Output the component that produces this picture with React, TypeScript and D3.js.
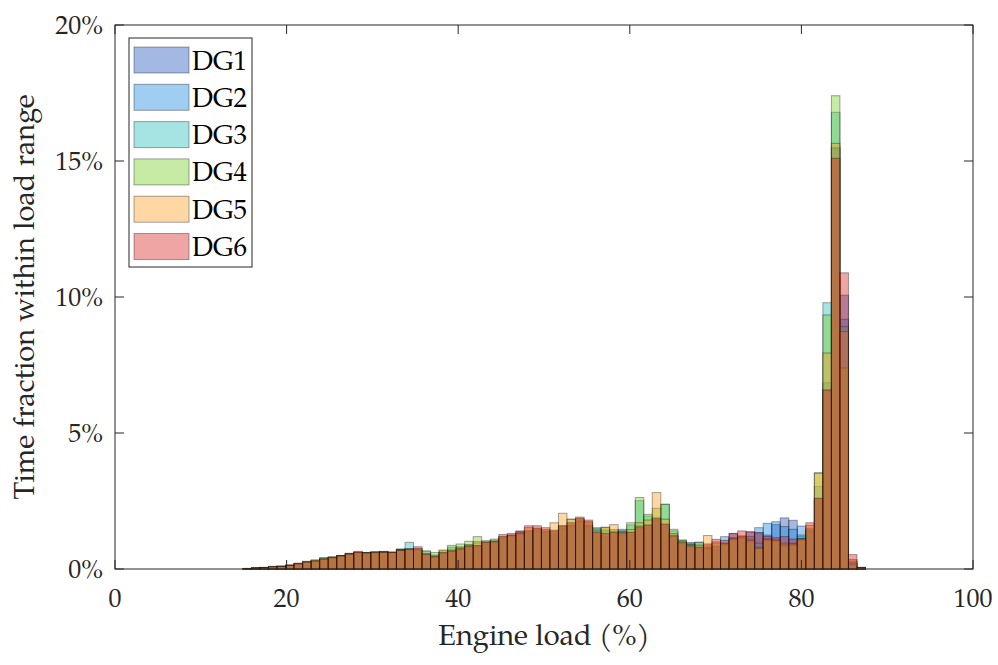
import React from 'react';
import * as d3 from 'd3';

// Histogram bins: bin k covers [k*BIN_WIDTH, (k+1)*BIN_WIDTH], data starts at FIRST_BIN
const FIRST_BIN = 15;
const BIN_WIDTH = 0.994;

const seriesNames = ['DG1', 'DG2', 'DG3', 'DG4', 'DG5', 'DG6'];
const seriesColors = ['#194db9', '#1182de', '#1ebbb9', '#70cd1e', '#fc9b1b', '#d91e1e'];

// Time fraction (%) per bin, bins 15..87
const dg1 = [
  0.01, 0.04, 0.05, 0.08, 0.10, 0.13, 0.19, 0.25, 0.29, 0.36,
  0.42, 0.48, 0.55, 0.60, 0.58, 0.60, 0.61, 0.60, 0.70, 0.70,
  0.70, 0.52, 0.44, 0.58, 0.65, 0.73, 0.82, 0.80, 0.92, 0.94,
  1.09, 1.19, 1.38, 1.31, 1.37, 1.31, 1.25, 1.46, 1.56, 1.74,
  1.56, 1.31, 1.21, 1.31, 1.25, 1.25, 1.50, 1.52, 1.74, 1.56,
  1.19, 0.94, 0.82, 0.76, 0.78, 0.70, 0.95, 1.31, 1.20, 1.37,
  1.34, 1.25, 1.64, 1.88, 1.79, 1.20, 1.38, 2.54, 6.60, 15.50,
  10.07, 0.30, 0.05,
];
const dg2 = [
  0.02, 0.03, 0.06, 0.07, 0.09, 0.13, 0.19, 0.25, 0.30, 0.36,
  0.41, 0.48, 0.56, 0.60, 0.59, 0.61, 0.64, 0.61, 0.72, 0.73,
  0.68, 0.54, 0.46, 0.59, 0.68, 0.75, 0.85, 0.85, 0.96, 0.98,
  1.12, 1.22, 1.30, 1.36, 1.42, 1.35, 1.30, 1.50, 1.60, 1.76,
  1.60, 1.45, 1.40, 1.38, 1.46, 1.35, 1.60, 1.60, 1.80, 1.62,
  1.25, 1.00, 0.97, 0.85, 0.80, 0.85, 1.19, 1.15, 1.15, 1.20,
  1.52, 1.68, 1.74, 1.56, 1.46, 1.58, 1.41, 2.60, 6.85, 15.47,
  9.18, 0.25, 0.04,
];
const dg3 = [
  0.01, 0.05, 0.05, 0.08, 0.10, 0.14, 0.20, 0.26, 0.31, 0.40,
  0.42, 0.49, 0.56, 0.61, 0.60, 0.62, 0.65, 0.61, 0.74, 0.98,
  0.72, 0.64, 0.52, 0.62, 0.80, 0.82, 0.90, 0.95, 0.98, 1.06,
  1.15, 1.22, 1.28, 1.38, 1.45, 1.38, 1.35, 1.55, 1.62, 1.80,
  1.62, 1.52, 1.44, 1.40, 1.38, 1.62, 2.51, 1.95, 1.90, 2.38,
  1.40, 1.05, 0.95, 0.99, 0.75, 0.80, 0.88, 1.07, 1.13, 1.00,
  0.95, 1.10, 1.05, 0.90, 0.95, 1.25, 1.45, 3.03, 9.79, 16.79,
  8.91, 0.20, 0.06,
];
const dg4 = [
  0.02, 0.04, 0.06, 0.10, 0.11, 0.15, 0.21, 0.28, 0.33, 0.42,
  0.45, 0.50, 0.58, 0.62, 0.61, 0.64, 0.63, 0.62, 0.71, 0.74,
  0.74, 0.67, 0.61, 0.67, 0.87, 0.92, 1.02, 1.19, 1.03, 1.10,
  1.20, 1.25, 1.32, 1.42, 1.48, 1.40, 1.43, 1.60, 1.83, 1.84,
  1.70, 1.48, 1.54, 1.45, 1.40, 1.70, 2.63, 2.01, 2.23, 2.38,
  1.46, 1.07, 0.90, 0.97, 0.85, 0.95, 0.92, 1.10, 1.18, 1.10,
  0.80, 1.07, 1.03, 0.85, 0.88, 1.07, 1.50, 3.54, 9.34, 17.40,
  7.39, 0.15, 0.03,
];
const dg5 = [
  0.01, 0.03, 0.05, 0.09, 0.10, 0.14, 0.21, 0.28, 0.33, 0.38,
  0.44, 0.49, 0.56, 0.61, 0.60, 0.62, 0.62, 0.61, 0.70, 0.72,
  0.75, 0.56, 0.48, 0.70, 0.70, 0.78, 0.88, 1.00, 1.03, 1.00,
  1.18, 1.24, 1.33, 1.52, 1.50, 1.45, 1.70, 2.05, 1.83, 1.86,
  1.74, 1.40, 1.52, 1.63, 1.35, 1.45, 1.70, 1.80, 2.81, 1.83,
  1.30, 1.02, 0.88, 0.88, 1.23, 1.00, 0.95, 1.12, 1.22, 1.05,
  0.76, 1.10, 1.08, 0.95, 0.92, 1.10, 1.60, 3.52, 7.94, 15.65,
  8.73, 0.35, 0.05,
];
const dg6 = [
  0.02, 0.04, 0.05, 0.08, 0.09, 0.13, 0.19, 0.25, 0.29, 0.36,
  0.42, 0.48, 0.55, 0.65, 0.59, 0.60, 0.61, 0.62, 0.68, 0.74,
  0.82, 0.55, 0.45, 0.60, 0.66, 0.74, 0.84, 0.86, 0.98, 1.02,
  1.27, 1.31, 1.40, 1.59, 1.59, 1.52, 1.40, 1.58, 1.70, 1.91,
  1.80, 1.35, 1.30, 1.35, 1.32, 1.35, 1.55, 1.62, 1.85, 1.65,
  1.22, 0.97, 0.85, 0.80, 0.92, 1.09, 1.05, 1.30, 1.40, 1.36,
  1.33, 1.20, 1.15, 1.19, 1.10, 1.12, 1.70, 2.60, 6.58, 15.10,
  10.89, 0.53, 0.06,
];
const seriesValues = [dg1, dg2, dg3, dg4, dg5, dg6];

const xTicks = [0, 20, 40, 60, 80, 100];
const yTicks = [0, 5, 10, 15, 20];

const FONT = "'Palatino Linotype', 'TeX Gyre Pagella', P052, 'URW Palladio L', 'Liberation Serif', serif";
const INK = '#262626';

export default function App() {
  const W = 998;
  const H = 665;
  const left = 115, right = 973, top = 25, bottom = 569;
  const x = d3.scaleLinear().domain([0, 100]).range([left, right]);
  const y = d3.scaleLinear().domain([0, 20]).range([bottom, top]);
  const tickLen = 9;
  const fillAlpha = 0.4;
  const edgeAlpha = 0.35;
  const tickFont = 26;
  const labelFont = 29;
  const legendFont = 27;

  const legendX = 129, legendY = 38, legendW = 123, legendH = 229;
  const rowH = 37.3;

  return (
    <svg width={W} height={H} style={{ position: 'absolute', left: 0, top: 0, background: '#fff' }} fontFamily={FONT}>
      <rect x={0} y={0} width={W} height={H} fill="#fff" />
      {/* bars */}
      {seriesValues.map((vals, si) => (
        <g key={si}>
          {vals.map((v, i) => {
            const k = FIRST_BIN + i;
            const x0 = x(k * BIN_WIDTH);
            const x1 = x((k + 1) * BIN_WIDTH);
            const y0 = y(v);
            return (
              <rect
                key={i}
                x={x0}
                y={y0}
                width={x1 - x0}
                height={y(0) - y0}
                fill={seriesColors[si]}
                fillOpacity={fillAlpha}
                stroke="#000"
                strokeOpacity={edgeAlpha}
                strokeWidth={1}
              />
            );
          })}
        </g>
      ))}
      {/* axes box */}
      <rect x={left} y={top} width={right - left} height={bottom - top} fill="none" stroke={INK} strokeWidth={1} />
      {/* y ticks */}
      {yTicks.map((t) => (
        <g key={'y' + t}>
          <line x1={left} x2={left + tickLen} y1={y(t)} y2={y(t)} stroke={INK} />
          <line x1={right} x2={right - tickLen} y1={y(t)} y2={y(t)} stroke={INK} />
          <text x={left - 12} y={y(t) + 8.5} textAnchor="end" fontSize={tickFont} fill={INK}>
            {t + '%'}
          </text>
        </g>
      ))}
      {/* x ticks */}
      {xTicks.map((t) => (
        <g key={'x' + t}>
          <line x1={x(t)} x2={x(t)} y1={bottom} y2={bottom - tickLen} stroke={INK} />
          <line x1={x(t)} x2={x(t)} y1={top} y2={top + tickLen} stroke={INK} />
          <text x={x(t)} y={607} textAnchor="middle" fontSize={tickFont} fill={INK}>
            {t}
          </text>
        </g>
      ))}
      {/* axis labels */}
      <text x={(left + right) / 2} y={645} textAnchor="middle" fontSize={labelFont} fill={INK}>
        Engine load (%)
      </text>
      <text transform={`translate(34, ${(top + bottom) / 2}) rotate(-90)`} textAnchor="middle" fontSize={labelFont} fill={INK}>
        Time fraction within load range
      </text>
      {/* legend */}
      <rect x={legendX} y={legendY} width={legendW} height={legendH} fill="#fff" stroke={INK} strokeWidth={1} />
      {seriesNames.map((name, i) => {
        const cy = legendY + 22 + i * rowH;
        return (
          <g key={name}>
            <rect x={134} y={cy - 13} width={55} height={26} fill={seriesColors[i]} fillOpacity={fillAlpha} stroke="#000" strokeOpacity={edgeAlpha} />
            <text x={192} y={cy + 9.5} fontSize={legendFont} fill="#000">
              {name}
            </text>
          </g>
        );
      })}
    </svg>
  );
}
